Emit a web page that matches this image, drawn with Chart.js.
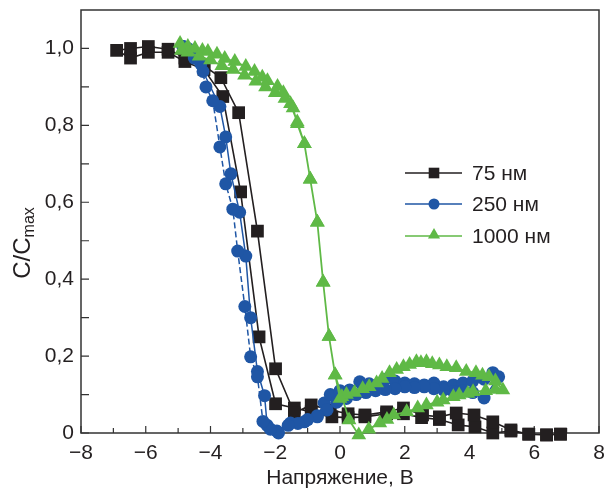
<!DOCTYPE html>
<html>
<head>
<meta charset="utf-8">
<script src="https://cdn.jsdelivr.net/npm/chart.js@4.4.0/dist/chart.umd.min.js"></script>
<style>
  html, body { margin: 0; padding: 0; background: #fff; }
</style>
</head>
<body>
<canvas id="chart" width="608" height="492"></canvas>
<script>
// series names (legend)
const seriesNames = ['75 нм', '250 нм', '1000 нм'];

// 75 nm: full sweep loop, +7 -> -7 -> +7
const v75 = [6.81, 6.38, 5.83, 5.28, 4.72, 4.17, 3.65, 3.07, 2.52, 1.96, 1.44, 0.77, 0.25, -0.25, -0.89, -1.41, -1.99, -2.5, -3.07, -3.62, -4.2, -4.79, -5.31, -5.92, -6.47, -6.9,
             -6.47, -5.92, -5.31, -4.79, -4.2, -3.68, -3.13, -2.55, -1.99, -1.41, -0.89, -0.3, 0.25, 0.77, 1.44, 1.96, 2.55, 3.07, 3.59, 4.14, 4.72, 5.28, 5.83, 6.38, 6.81];
const c75 = [-0.003, -0.005, -0.003, 0.005, 0.0, 0.016, 0.021, 0.035, 0.04, 0.05, 0.05, 0.042, 0.04, 0.042, 0.055, 0.065, 0.076, 0.25, 0.627, 0.875, 0.945, 0.966, 0.99, 0.99, 0.975, 0.995,
             1.0, 1.005, 0.998, 0.975, 0.955, 0.924, 0.833, 0.525, 0.167, 0.052, 0.073, 0.06, 0.05, 0.047, 0.055, 0.065, 0.047, 0.042, 0.052, 0.047, 0.029, 0.008, -0.003, -0.005, -0.003];

// 250 nm: -5 -> +5 (solid), then +5 -> -5 (dashed)
const v250 = [-4.85, -4.7, -4.5, -4.23, -3.71, -3.53, -3.37, -3.1, -2.91, -2.76, -2.55, -2.33, -2.25, -1.95, -1.53, -1.1, -0.7, -0.49, -0.3, 0.0, 0.3, 0.61, 0.9, 1.13, 1.4, 1.7, 2.0, 2.3, 2.6, 2.9, 3.2, 3.5, 3.8, 4.1, 4.45, 4.72, 4.9,
              4.45, 4.1, 3.8, 3.5, 3.2, 2.9, 2.6, 2.3, 2.0, 1.7, 1.4, 1.1, 0.8, 0.5, 0.2, -0.1, -0.4, -0.7, -1.0, -1.3, -1.6, -1.9, -2.15, -2.38, -2.55, -2.76, -2.94, -3.16, -3.31, -3.53, -3.71, -3.93, -4.14, -4.3, -4.5, -4.85];
const c250 = [1.005, 1.0, 0.99, 0.94, 0.849, 0.77, 0.674, 0.574, 0.46, 0.30, 0.16, 0.097, 0.02, 0.005, 0.026, 0.029, 0.042, 0.078, 0.10, 0.11, 0.112, 0.133, 0.128, 0.12, 0.14, 0.135, 0.13, 0.128, 0.125, 0.13, 0.12, 0.125, 0.13, 0.135, 0.14, 0.157, 0.146,
              0.091, 0.105, 0.11, 0.108, 0.112, 0.115, 0.12, 0.118, 0.12, 0.115, 0.113, 0.11, 0.105, 0.1, 0.09, 0.08, 0.06, 0.045, 0.035, 0.025, 0.02, 0.0, 0.01, 0.03, 0.146, 0.198, 0.329, 0.473, 0.582, 0.648, 0.744, 0.864, 0.90, 0.96, 0.975, 1.005];
const split250 = 36; // index of the turning point at +4.9 V

// 1000 nm: -5 -> +5 -> -5
const v1000 = [-4.94, -4.7, -4.48, -4.25, -4.08, -3.8, -3.56, -3.25, -2.91, -2.64, -2.4, -2.24, -1.93, -1.75, -1.53, -1.32, -1.1, -0.92, -0.7, -0.52, -0.34, -0.15, 0.06, 0.28, 0.58, 0.89, 1.23, 1.45, 1.66, 2.06, 2.4, 2.67, 3.0, 3.19, 3.5, 3.68, 3.95, 4.11, 4.5, 4.8, 5.03,
               4.8, 4.6, 4.4, 4.2, 3.9, 3.59, 3.3, 3.07, 2.85, 2.67, 2.5, 2.36, 2.15, 1.96, 1.75, 1.53, 1.3, 1.13, 0.9, 0.7, 0.45, 0.2, 0.0, -0.15, -0.34, -0.52, -0.7, -0.92, -1.1, -1.32, -1.45, -1.7, -2.0, -2.3, -2.6, -2.95, -3.3, -3.65, -4.0, -4.35, -4.7, -4.9];
const c1000 = [1.013, 1.005, 1.0, 0.995, 0.992, 0.985, 0.974, 0.966, 0.953, 0.94, 0.925, 0.916, 0.901, 0.885, 0.856, 0.809, 0.752, 0.66, 0.548, 0.392, 0.251, 0.151, 0.094, 0.034, -0.005, 0.01, 0.026, 0.035, 0.047, 0.055, 0.065, 0.073, 0.08, 0.086, 0.094, 0.099, 0.103, 0.107, 0.11, 0.113, 0.112,
               0.135, 0.146, 0.15, 0.157, 0.16, 0.17, 0.172, 0.177, 0.18, 0.185, 0.183, 0.185, 0.178, 0.172, 0.165, 0.157, 0.142, 0.13, 0.12, 0.115, 0.105, 0.1, 0.09, 0.151, 0.251, 0.392, 0.548, 0.66, 0.752, 0.804, 0.845, 0.87, 0.885, 0.9, 0.915, 0.93, 0.945, 0.955, 0.97, 0.98, 0.99, 0.995];

// axes ticks
const xTickValues = [-8, -6, -4, -2, 0, 2, 4, 6, 8];
const xTickLabels = ['\u22128', '\u22126', '\u22124', '\u22122', '0', '2', '4', '6', '8'];
const xMinorTicks = [-7, -5, -3, -1, 1, 3, 5, 7];
const yTickValues = [0, 0.2, 0.4, 0.6, 0.8, 1.0];
const yTickLabels = ['0', '0,2', '0,4', '0,6', '0,8', '1,0'];
const yMinorTicks = [0.1, 0.3, 0.5, 0.7, 0.9];

const colors = ['#231f20', '#1f56a5', '#5fb946'];
const styles = ['rect', 'circle', 'triangle'];
const textColor = '#231f20';
const font = '"Liberation Sans", Arial, sans-serif';

function toPoints(xs, ys) {
  return xs.map((v, i) => ({ x: v, y: ys[i] }));
}

function marker(ctx, style, x, y, r) {
  ctx.beginPath();
  if (style === 'rect') {
    const s = r * Math.SQRT1_2;
    ctx.rect(x - s, y - s, 2 * s, 2 * s);
  } else if (style === 'circle') {
    ctx.arc(x, y, r, 0, Math.PI * 2);
  } else {
    for (let k = 0; k < 3; k++) {
      const a = k * 2 * Math.PI / 3;
      const px = x + Math.sin(a) * r, py = y - Math.cos(a) * r;
      k === 0 ? ctx.moveTo(px, py) : ctx.lineTo(px, py);
    }
    ctx.closePath();
  }
  ctx.fill();
}

const decor = {
  id: 'decor',
  beforeDatasetsDraw(chart) {
    const { ctx, chartArea: a, scales: { x, y } } = chart;
    ctx.save();
    ctx.strokeStyle = '#333';
    ctx.lineWidth = 1.5;
    ctx.strokeRect(a.left, a.top, a.right - a.left, a.bottom - a.top);
    ctx.lineWidth = 1.2;
    ctx.beginPath();
    xTickValues.forEach(v => { const p = x.getPixelForValue(v); ctx.moveTo(p, a.bottom); ctx.lineTo(p, a.bottom - 7); });
    xMinorTicks.forEach(v => { const p = x.getPixelForValue(v); ctx.moveTo(p, a.bottom); ctx.lineTo(p, a.bottom - 5); });
    yTickValues.concat(yMinorTicks).forEach(v => { const p = y.getPixelForValue(v); ctx.moveTo(a.left, p); ctx.lineTo(a.left + 8, p); });
    ctx.stroke();
    ctx.restore();
  },
  afterDraw(chart) {
    const { ctx, chartArea: a } = chart;
    ctx.save();
    ctx.fillStyle = textColor;
    // x title
    ctx.font = '21px ' + font;
    ctx.textAlign = 'center';
    ctx.textBaseline = 'middle';
    ctx.fillText('Напряжение, В', (a.left + a.right) / 2, 478);
    // y title with subscript
    ctx.translate(22, 243);
    ctx.rotate(-Math.PI / 2);
    ctx.font = '24px ' + font;
    const w1 = ctx.measureText('C/C').width;
    ctx.font = '16px ' + font;
    const w2 = ctx.measureText('max').width;
    const start = -(w1 + w2) / 2;
    ctx.textAlign = 'left';
    ctx.textBaseline = 'alphabetic';
    ctx.font = '24px ' + font;
    ctx.fillText('C/C', start, 8);
    ctx.font = '16px ' + font;
    ctx.fillText('max', start + w1, 12);
    ctx.restore();

    // legend
    ctx.save();
    const rows = [173, 204, 236];
    const radii = [7.5, 5.5, 7];
    seriesNames.forEach((name, i) => {
      const yy = rows[i];
      ctx.strokeStyle = colors[i];
      ctx.lineWidth = 1.6;
      ctx.beginPath();
      ctx.moveTo(405, yy);
      ctx.lineTo(462, yy);
      ctx.stroke();
      ctx.fillStyle = colors[i];
      marker(ctx, styles[i], 434, i === 2 ? yy - 1 : yy, radii[i]);
      ctx.fillStyle = textColor;
      ctx.font = '21px ' + font;
      ctx.textAlign = 'left';
      ctx.textBaseline = 'middle';
      ctx.fillText(name, 472, yy + 1);
    });
    ctx.restore();
  }
};

const ctx = document.getElementById('chart').getContext('2d');
new Chart(ctx, {
  type: 'scatter',
  data: {
    datasets: [
      {
        label: seriesNames[2],
        data: toPoints(v1000, c1000),
        showLine: true,
        borderColor: colors[2],
        borderWidth: 1.8,
        pointStyle: 'triangle',
        pointRadius: 8.5,
        pointBackgroundColor: colors[2],
        pointBorderWidth: 0,
        clip: false
      },
      {
        label: seriesNames[1],
        data: toPoints(v250, c250),
        showLine: true,
        borderColor: colors[1],
        borderWidth: 1.5,
        segment: { borderDash: c => c.p0DataIndex >= split250 ? [6, 3] : undefined },
        pointStyle: 'circle',
        pointRadius: 6.5,
        pointBackgroundColor: colors[1],
        pointBorderWidth: 0,
        clip: false
      },
      {
        label: seriesNames[0],
        data: toPoints(v75, c75),
        showLine: true,
        borderColor: colors[0],
        borderWidth: 1.6,
        pointStyle: 'rect',
        pointRadius: 9,
        pointBackgroundColor: colors[0],
        pointBorderWidth: 0,
        clip: false
      }
    ]
  },
  options: {
    responsive: false,
    animation: false,
    layout: { padding: { top: 10, right: 5, left: 0, bottom: 0 } },
    plugins: { legend: { display: false }, tooltip: { enabled: false } },
    scales: {
      x: {
        type: 'linear',
        min: -8, max: 8,
        afterBuildTicks: s => { s.ticks = xTickValues.map(v => ({ value: v })); },
        afterFit: s => { s.height = 59; s.paddingLeft = 0; s.paddingRight = 0; },
        grid: { display: false, drawTicks: false },
        border: { display: false },
        ticks: {
          callback: (v, i) => xTickLabels[i],
          font: { family: font, size: 21 },
          color: textColor,
          padding: 8,
          maxRotation: 0
        }
      },
      y: {
        type: 'linear',
        min: 0, max: 1.1,
        afterBuildTicks: s => { s.ticks = yTickValues.map(v => ({ value: v })); },
        afterFit: s => { s.width = 81; s.paddingTop = 0; s.paddingBottom = 0; },
        grid: { display: false, drawTicks: false },
        border: { display: false },
        ticks: {
          callback: (v, i) => yTickLabels[i],
          font: { family: font, size: 21 },
          color: textColor,
          padding: 7
        }
      }
    }
  },
  plugins: [decor]
});
</script>
</body>
</html>
